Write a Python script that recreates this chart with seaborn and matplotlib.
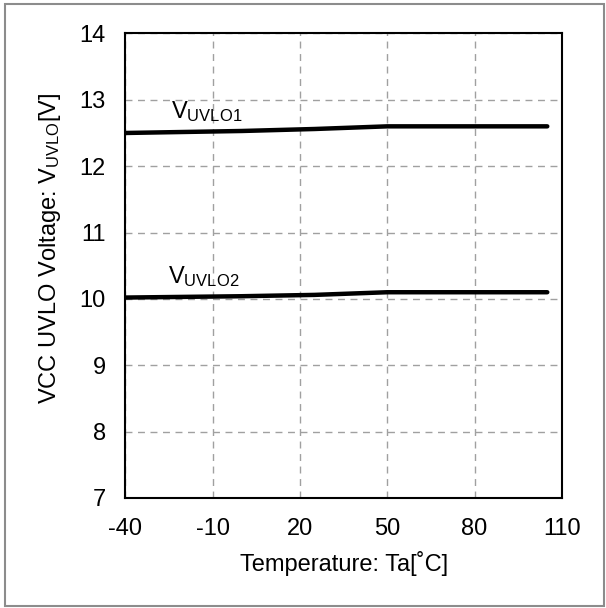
import pandas as pd
import numpy as np
import matplotlib
matplotlib.use("Agg")
import matplotlib.pyplot as plt
import seaborn as sns
from matplotlib.patches import Rectangle

# values
temperature = [-40, 0, 25, 50, 75, 105]
vuvlo1 = [12.50, 12.53, 12.56, 12.60, 12.60, 12.60]
vuvlo2 = [10.02, 10.04, 10.06, 10.10, 10.10, 10.10]
x_ticks = [-40, -10, 20, 50, 80, 110]
y_ticks = [7, 8, 9, 10, 11, 12, 13, 14]

df = pd.DataFrame({
    'Temperature': temperature * 2,
    'Voltage': vuvlo1 + vuvlo2,
    'Series': ['VUVLO1'] * len(temperature) + ['VUVLO2'] * len(temperature),
})

sns.set_style('white')
plt.rcParams['font.family'] = ['Liberation Sans', 'DejaVu Sans']
plt.rcParams['mathtext.fontset'] = 'custom'
plt.rcParams['mathtext.rm'] = 'Liberation Sans'
plt.rcParams['mathtext.it'] = 'Liberation Sans'
plt.rcParams['axes.unicode_minus'] = False
plt.rcParams['text.color'] = 'black'
plt.rcParams['axes.labelcolor'] = 'black'

fig = plt.figure(figsize=(6.06, 6.08), dpi=100)
ax = fig.add_axes([0.2068, 0.181, 0.7203, 0.764])

sns.lineplot(data=df, x='Temperature', y='Voltage', hue='Series',
             palette=['black', 'black'], linewidth=3.2, legend=False, ax=ax)

ax.set_xlim(-40, 110)
ax.set_ylim(7, 14)
ax.set_xticks(x_ticks)
ax.set_yticks(y_ticks)
ax.grid(True, color='#a0a0a0', linestyle=(0, (5, 4)), linewidth=1)
ax.tick_params(length=0, labelsize=17, colors='black')
ax.tick_params(axis='x', pad=14.5)
ax.tick_params(axis='y', pad=14)
for s in ax.spines.values():
    s.set_color('black')
    s.set_linewidth(1.5)

ax.set_xlabel('Temperature: Ta[˚C]', fontsize=17, labelpad=8, color='black')
ax.set_ylabel(r'VCC UVLO Voltage: V$_{\mathrm{UVLO}}$[V]', fontsize=17, labelpad=12,
              color='black')
ax.yaxis.label.set_y(0.538)

ax.text(-24.3, 12.73, r'V$_{\mathrm{UVLO1}}$', fontsize=17, va='baseline', color='black')
ax.text(-25.2, 10.233, r'V$_{\mathrm{UVLO2}}$', fontsize=17, va='baseline', color='black')

fig.patches.append(Rectangle((0.008, 0.003), 0.988, 0.99, transform=fig.transFigure,
                             fill=False, edgecolor='#8c8c8c', linewidth=1.5))

fig.savefig('out.png', dpi=100)
